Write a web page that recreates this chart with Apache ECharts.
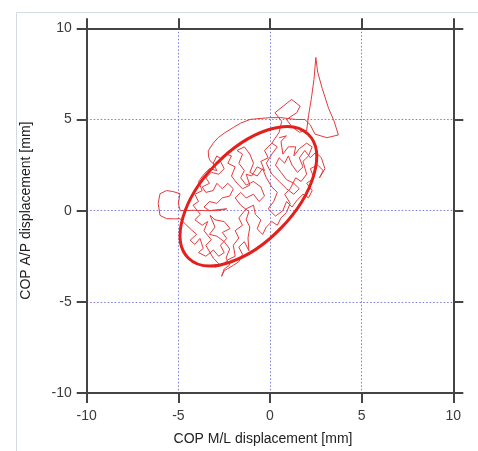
<!DOCTYPE html>
<html>
<head>
<meta charset="utf-8">
<script src="https://cdn.jsdelivr.net/npm/echarts@6/dist/echarts.min.js"></script>
<style>
html,body{margin:0;padding:0;background:#fff;}
#chart{width:478px;height:451px;}
</style>
</head>
<body>
<div id="chart"></div>
<script>
// Axis ticks
const tickValues = [-10, -5, 0, 5, 10];
const gridValues = [-5, 0, 5];
const xTitle = 'COP M/L displacement [mm]';
const yTitle = 'COP A/P displacement [mm]';

// Confidence ellipse: center x, center y, semi-major, semi-minor, angle (deg)
const ellipseParams = [-1.18, 0.79, 4.7, 2.5, 46];

// COP trace, M/L (x) and A/P (y) displacement in mm
const copTrace = [
  [0.1,3.7],[0.5,4.3],[0.64,4.9],[0.27,5.37],[1.18,6.1],[1.64,5.73],[1.46,5.37],[0.9,5.0],[1.2,4.6],[1.6,4.3],
  [2.0,4.4],[2.1,5.2],[2.25,6.1],[2.4,7.2],[2.5,8.4],[2.6,7.6],[2.85,6.7],[3.2,5.6],[3.5,4.9],[3.73,4.15],
  [3.1,4.0],[2.45,4.2],[2.2,4.7],[1.9,5.0],[1.4,5.0],[0.6,5.1],[0.0,5.1],[-0.6,5.05],[-1.09,5.0],[-1.6,4.8],
  [-2.0,4.56],[-2.5,4.25],[-2.82,4.01],[-3.1,3.7],[-3.37,3.28],[-3.35,2.95],[-3.27,2.74],[-3.0,2.5],
  [-2.7,2.7],[-2.5,2.3],[-2.8,2.0],[-3.2,2.1],[-3.5,1.8],[-3.3,1.5],[-3.7,1.3],[-3.5,1.0],[-3.1,1.1],[-2.9,1.5],
  [-2.6,1.2],[-2.3,1.5],[-2.0,1.2],[-2.2,0.8],[-2.6,0.7],[-2.9,0.4],[-3.3,0.5],[-3.6,0.2],[-3.3,0.0],[-2.9,0.05],
  [-2.36,0.1],[-2.8,0.0],[-3.5,0.0],[-4.2,0.02],[-4.9,0.0],
  [-5.0,0.4],[-4.91,0.93],[-5.3,1.05],[-5.64,1.1],[-6.0,0.93],[-6.1,0.4],[-6.0,-0.26],[-5.64,-0.44],[-5.2,-0.45],
  [-4.91,-0.44],[-4.6,-0.75],[-4.27,-1.07],[-4.0,-1.3],
  [-4.36,-1.62],[-4.1,-1.85],[-3.82,-1.52],[-3.64,-2.07],[-3.9,-2.3],[-3.5,-2.5],[-3.09,-2.16],[-2.8,-2.5],
  [-2.5,-2.3],[-2.7,-1.9],[-2.36,-1.52],[-2.6,-1.2],[-2.18,-0.98],[-2.5,-0.6],[-3.0,-0.5],[-3.27,-0.26],
  [-3.0,-0.9],[-3.3,-1.3],[-2.9,-1.4],[-2.5,-1.7],[-2.2,-2.1],[-2.4,-2.6],[-2.2,-2.98],[-2.5,-3.2],[-2.64,-3.6],
  [-2.5,-3.3],[-2.0,-3.0],[-1.7,-2.8],[-1.5,-2.4],[-1.7,-2.0],[-1.4,-1.7],[-1.15,-2.2],[-1.2,-1.5],[-1.1,-0.9],
  [-1.3,-0.5],[-1.15,-0.05],
  [-1.6,0.3],[-1.9,0.7],[-1.6,1.0],[-1.3,0.7],[-0.9,0.9],[-0.6,0.5],[-0.3,0.8],[-0.5,1.3],[-0.9,1.6],[-1.3,1.4],
  [-1.6,1.8],[-1.4,2.2],[-1.7,2.6],[-1.5,3.1],[-1.8,3.3],[-1.4,3.5],[-1.1,3.1],[-0.9,2.6],[-1.1,2.1],[-0.7,1.9],
  [-0.4,2.3],[-0.2,1.8],[0.1,1.3],[0.4,1.0],[0.2,0.5],[-0.1,0.1],[0.3,-0.3],[0.7,0.0],[0.9,0.5],[1.2,0.2],[1.5,0.6],
  [1.8,0.9],[2.1,0.7],[2.3,1.1],[2.0,1.5],[2.4,1.8],[2.2,2.3],[2.6,2.5],[2.9,2.2],[2.7,1.8],[3.0,2.3],[2.8,2.9],
  [2.5,3.2],[2.2,2.9],[1.9,3.3],[1.6,2.9],[1.8,2.4],[1.5,2.1],[1.2,2.5],[1.0,3.0],[0.8,2.6],[0.5,2.9],[0.3,2.5],
  [0.6,2.1],[0.9,1.7],[1.3,1.5],[1.6,1.2],[1.3,0.9],[0.9,1.2],[0.5,1.6],[0.1,2.0],[-0.2,2.6],[0.1,3.1],[0.4,3.5],[0.1,3.7],
  [-0.3,3.3],[-0.1,2.9],[-0.5,2.7],[-0.3,2.2],[-0.7,2.4],[-1.0,1.9],[-1.3,2.0],[-1.1,1.4],[-1.5,1.2],[-1.8,1.5],
  [-2.1,1.9],[-1.9,2.4],[-2.3,2.6],[-2.1,3.0],[-2.4,3.1],[-2.6,2.8],[-2.9,3.0],[-3.1,2.6],[-2.9,2.2],[-3.3,2.3],
  [-3.6,2.0],[-3.9,1.6],[-3.7,1.1],[-4.1,0.9],[-3.9,0.5],[-4.2,0.3],[-3.8,-0.2],[-4.1,-0.5],[-3.7,-0.8],[-3.4,-0.6],
  [-3.6,-1.1],[-3.2,-1.6],[-3.5,-1.9],[-3.1,-2.6],[-2.8,-2.9],[-3.0,-3.1],[-2.6,-3.0],[-2.3,-2.7],[-1.9,-2.5],[-2.0,-1.9],
  [-1.7,-1.5],[-1.9,-1.1],[-1.5,-0.8],[-1.7,-0.4],[-1.3,0.1],[-0.9,0.3],[-0.8,-0.2],[-0.5,-0.5],[-0.7,-1.0],[-0.4,-1.3],
  [-0.2,-0.9],[0.1,-0.6],[0.4,-0.8],[0.6,-0.4],[0.9,-0.1],[1.1,0.4],[0.8,0.9],[1.1,1.2],[1.4,1.8],[1.7,1.6],
  [2.0,2.0],[1.8,2.7],[2.1,3.0],[2.3,3.5],[2.0,3.7],[1.6,3.4],[1.3,3.0],[1.4,3.5],[1.0,3.5],[0.7,3.1],
  [0.6,3.8],[0.9,4.1],[0.5,4.0]
];

const chart = echarts.init(document.getElementById('chart'), null, {renderer: 'canvas'});
const FRAME = '#444444';
const FONT = 'Liberation Sans, Arial, sans-serif';
const labelStyle = {color: '#3a3a3a', fontSize: 14, fontFamily: FONT};

function axisBase(pos) {
  return {
    type: 'value', position: pos, min: tickValues[0], max: tickValues[tickValues.length - 1], interval: 5,
    axisLine: {show: true, onZero: false, lineStyle: {color: FRAME, width: 2}},
    axisTick: {show: true, inside: false, length: 10, lineStyle: {color: FRAME, width: 2}},
    axisLabel: {show: false},
    splitLine: {show: false}
  };
}
const gridLineStyle = {color: '#7c7cd8', width: 1, type: [1.5, 2]};

const xBottom = axisBase('bottom');
xBottom.axisLabel = Object.assign({show: true, margin: 16}, labelStyle);
xBottom.splitLine = {show: true, lineStyle: gridLineStyle};
xBottom.name = xTitle;
xBottom.nameLocation = 'middle';
xBottom.nameGap = 39;
xBottom.nameTextStyle = {color: '#222', fontSize: 14, fontFamily: FONT, padding: [0, 14, 0, 0]};

const yLeft = axisBase('left');
yLeft.axisLabel = Object.assign({show: true, margin: 15}, labelStyle);
yLeft.splitLine = {show: true, lineStyle: gridLineStyle};
yLeft.name = yTitle;
yLeft.nameLocation = 'middle';
yLeft.nameGap = 54;
yLeft.nameTextStyle = {color: '#222', fontSize: 14, fontFamily: FONT};

chart.setOption({
  animation: false,
  backgroundColor: '#ffffff',
  graphic: [{
    type: 'rect', left: 14, top: 10, silent: true, z: -10,
    shape: {width: 470, height: 450},
    style: {fill: 'none', stroke: '#d3dae3', lineWidth: 1}
  }],
  grid: {left: 86.7, right: 24.7, top: 28.3, bottom: 55, containLabel: false},
  xAxis: [xBottom, axisBase('top')],
  yAxis: [yLeft, axisBase('right')],
  series: [
    {
      type: 'line', data: copTrace, showSymbol: false, symbol: 'none',
      lineStyle: {color: '#e6393b', width: 1}, z: 3, clip: false
    },
    {
      type: 'custom', data: [ellipseParams], z: 4, clip: false,
      renderItem: function (params, api) {
        const c = api.coord([api.value(0), api.value(1)]);
        const sx = api.size([1, 0])[0];
        const sy = api.size([0, 1])[1];
        return {
          type: 'ellipse',
          x: c[0], y: c[1],
          rotation: api.value(4) * Math.PI / 180,
          shape: {cx: 0, cy: 0, rx: api.value(2) * sx, ry: api.value(3) * sy},
          style: {fill: 'none', stroke: '#e3201c', lineWidth: 3}
        };
      }
    }
  ]
});
</script>
</body>
</html>
